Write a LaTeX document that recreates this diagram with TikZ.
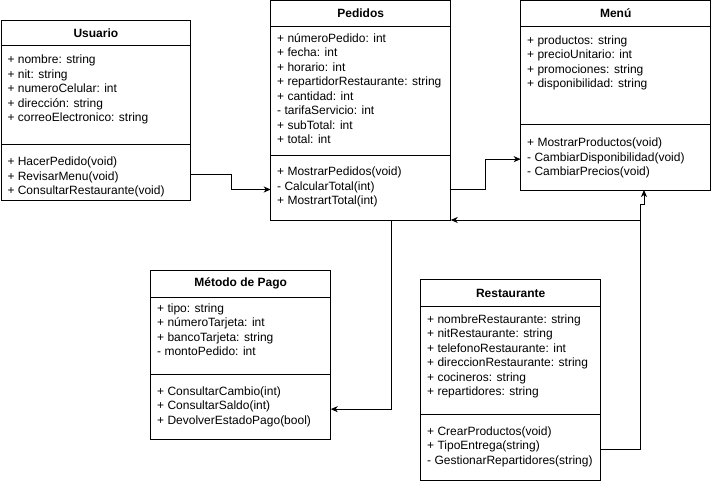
\documentclass[tikz,border=0pt]{standalone}
\usepackage{fontspec}
\setmainfont{Liberation Sans}
\usetikzlibrary{positioning,arrows.meta}

\begin{document}
\begin{tikzpicture}[x=1pt, y=-1pt, line width=1pt, >={Stealth[length=7pt,width=6pt,inset=2pt]},
  every node/.style={font=\fontsize{12}{14.5}\selectfont},
  clsname/.style={draw, fill=white, anchor=north west, outer sep=0pt, inner sep=0pt, font=\fontsize{12}{14.5}\selectfont\bfseries},
  compart/.style={draw, fill=white, outer sep=0pt, inner sep=0pt},
  members/.style={align=left, inner sep=0pt, execute at begin node=\strut}]

  \useasboundingbox (0,0) rectangle (711,484);

  % Usuario
  \node[clsname, minimum width=189.7pt, minimum height=25.3pt] (usu) at (1,20.7) {Usuario};
  \node[compart, minimum width=189.7pt, minimum height=98.3pt, below=0pt of usu] (usuA) {};
  \node[compart, minimum width=189.7pt, minimum height=55.7pt, below=0pt of usuA] (usuO) {};
  \node[members, below right=8.8pt and 6pt of usuA.north west] (usuAt) {+ nombre: string\\+ nit: string\\+ numeroCelular: int\\+ dirección: string\\+ correoElectronico: string};
  \node[members, below right=12.5pt and 6pt of usuO.north west] (usuOt) {+ HacerPedido(void)\\+ RevisarMenu(void)\\+ ConsultarRestaurante(void)};

  % Pedidos
  \node[clsname, minimum width=180pt, minimum height=25.3pt] (ped) at (270.7,1) {Pedidos};
  \node[compart, minimum width=180pt, minimum height=128.7pt, below=0pt of ped] (pedA) {};
  \node[compart, minimum width=180pt, minimum height=65pt, below=0pt of pedA] (pedO) {};
  \node[members, below right=6.8pt and 6pt of pedA.north west] (pedAt) {+ númeroPedido: int\\+ fecha: int\\+ horario: int\\+ repartidorRestaurante: string\\+ cantidad: int\\- tarifaServicio: int\\+ subTotal: int\\+ total: int};
  \node[members, below right=11.5pt and 6pt of pedO.north west] (pedOt) {+ MostrarPedidos(void)\\- CalcularTotal(int)\\+ MostrartTotal(int)};

  % Menu
  \node[clsname, minimum width=190pt, minimum height=25.3pt] (men) at (520.7,1) {Menú};
  \node[compart, minimum width=190pt, minimum height=98pt, below=0pt of men] (menA) {};
  \node[compart, minimum width=190pt, minimum height=65.7pt, below=0pt of menA] (menO) {};
  \node[members, below right=8.6pt and 6pt of menA.north west] (menAt) {+ productos: string\\+ precioUnitario: int\\+ promociones: string\\+ disponibilidad: string};
  \node[members, below right=13.2pt and 6pt of menO.north west] (menOt) {+ MostrarProductos(void)\\- CambiarDisponibilidad(void)\\- CambiarPrecios(void)};

  % Metodo de Pago
  \node[clsname, minimum width=180pt, minimum height=27.3pt] (met) at (150.7,270) {Método de Pago};
  \node[compart, minimum width=180pt, minimum height=76.7pt, below=0pt of met] (metA) {};
  \node[compart, minimum width=180pt, minimum height=65.3pt, below=0pt of metA] (metO) {};
  \node[members, below right=5.6pt and 6pt of metA.north west] (metAt) {+ tipo: string\\+ númeroTarjeta: int\\+ bancoTarjeta: string\\- montoPedido: int};
  \node[members, below right=12.2pt and 6pt of metO.north west] (metOt) {+ ConsultarCambio(int)\\+ ConsultarSaldo(int)\\+ DevolverEstadoPago(bool)};

  % Restaurante
  \node[clsname, minimum width=180pt, minimum height=27.4pt] (res) at (420.7,279.3) {Restaurante};
  \node[compart, minimum width=180pt, minimum height=107.3pt, below=0pt of res] (resA) {};
  \node[compart, minimum width=180pt, minimum height=66.3pt, below=0pt of resA] (resO) {};
  \node[members, below right=7.2pt and 6pt of resA.north west] (resAt) {+ nombreRestaurante: string\\+ nitRestaurante: string\\+ telefonoRestaurante: int\\+ direccionRestaurante: string\\+ cocineros: string\\+ repartidores: string};
  \node[members, below right=12.2pt and 6pt of resO.north west] (resOt) {+ CrearProductos(void)\\+ TipoEntrega(string)\\- GestionarRepartidores(string)};

  % connectors
  \draw[->] ([yshift=-2pt]usuO.east) -- ++(40.7,0) |- ([yshift=-2pt]pedO.west);
  \draw[->] ([yshift=-2pt]pedO.east) -- ++(35,0) |- ([yshift=-2pt]menO.west);
  \draw[->] ([xshift=30.4pt]pedO.south) |- ([yshift=-2.5pt]metO.east);
  \draw[->] ([yshift=-2pt]resO.east) -- ++(40,0) coordinate (bend) -- ++(0,-245) -- ++(3.3,0) -- ([xshift=28.3pt]menO.south);
  \draw[->] (bend |- pedO.south east) -- (pedO.south east);
\end{tikzpicture}
\end{document}
